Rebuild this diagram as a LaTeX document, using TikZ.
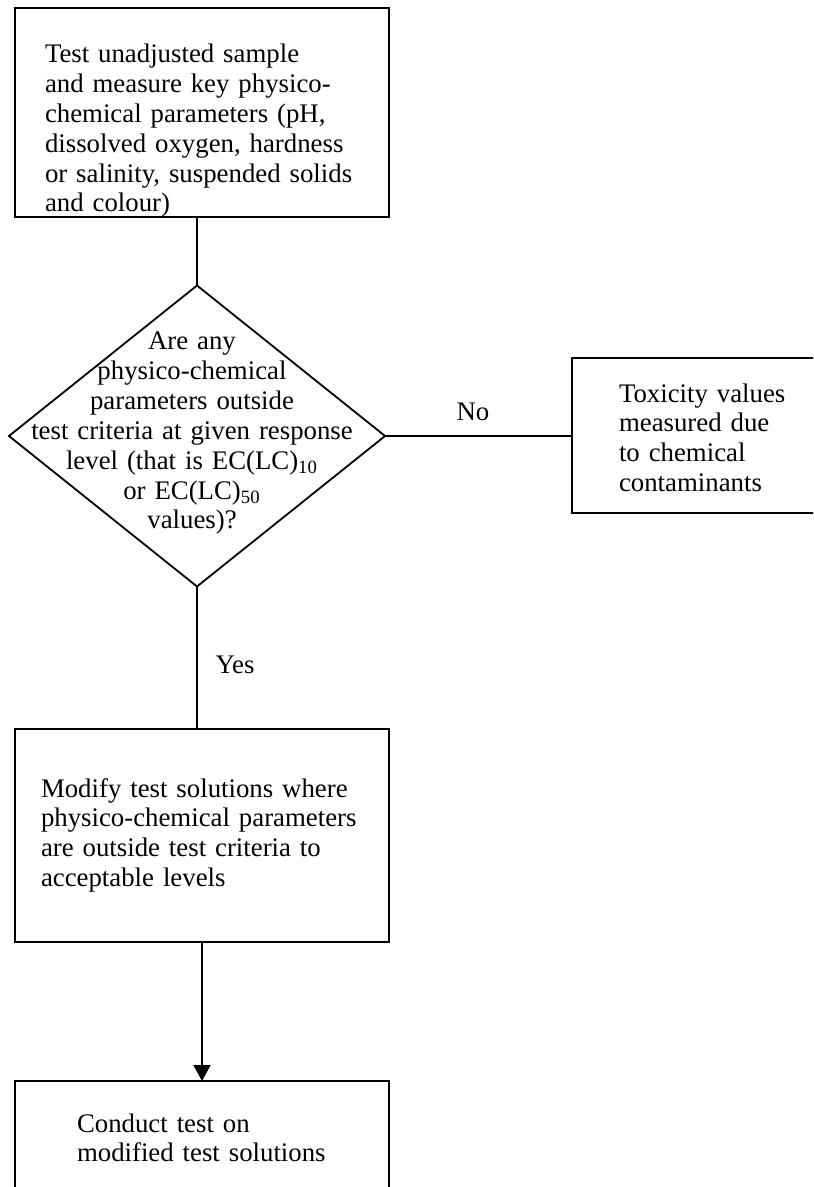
\documentclass[tikz,border=0pt]{standalone}
\usepackage{fontspec}
\setmainfont{Liberation Serif}
\usetikzlibrary{arrows.meta,shapes.geometric}
\tikzset{
  stepbox/.style={rectangle,draw,line width=0.9pt,inner ysep=0pt,outer sep=0pt,align=left,anchor=north west},
  decision/.style={diamond,draw,line width=0.9pt,inner sep=0pt,outer sep=0pt,minimum width=188pt,minimum height=150.5pt},
  qtext/.style={align=center,text width=165pt,inner sep=0pt},
  conn/.style={line width=0.9pt},
  arr/.style={line width=0.9pt,-{Triangle[width=8.5pt,length=8pt]}},
  every node/.style={font=\fontsize{13.4}{14.9}\selectfont}
}
\begin{document}
\begin{tikzpicture}[x=0.5pt,y=-0.5pt]
\path[use as bounding box,clip] (0,0) rectangle (813,1187);
% left column of boxes
\node[stepbox,inner xsep=15pt,text width=157pt,text height=27.5pt,text depth=77pt] (sample) at (15,8)
  {Test unadjusted sample\\ and measure key physico-\\ chemical parameters (pH,\\ dissolved oxygen, hardness\\ or salinity, suspended solids\\ and colour)};
\node[decision] (crit) at (197,436) {};
\node[qtext,anchor=base] (crittext) at (192,350)
  {Are any\\ physico-chemical\\ parameters outside\\ test criteria at given response\\ level (that is EC(LC)\textsubscript{10}\\ or EC(LC)\textsubscript{50}\\ values)?};
\node[stepbox,inner xsep=13pt,text width=161pt,text height=34pt,text depth=72.5pt] (modify) at (15,729)
  {Modify test solutions where\\ physico-chemical parameters\\ are outside test criteria to\\ acceptable levels};
\node[stepbox,inner xsep=31pt,text width=125pt,text height=25.5pt,text depth=70pt] (conduct) at (15,1081)
  {Conduct test on\\ modified test solutions};
% outcome box on the right
\node[stepbox,inner xsep=23.5pt,text width=90pt,text height=22pt,text depth=55.5pt] (tox) at (572,358)
  {Toxicity values\\ measured due\\ to chemical\\ contaminants};
% connectors
\draw[conn] (sample.south -| crit.north) -- (crit.north);
\draw[conn] (crit.east) -- (crit.east -| tox.west) node[pos=0.47,above=4pt] (no) {No};
\draw[conn] (crit.south) -- (crit.south |- modify.north) node[pos=0.55,right=5.5pt] (yes) {Yes};
\draw[arr] (modify.south) -- (conduct.north);
\end{tikzpicture}
\end{document}
